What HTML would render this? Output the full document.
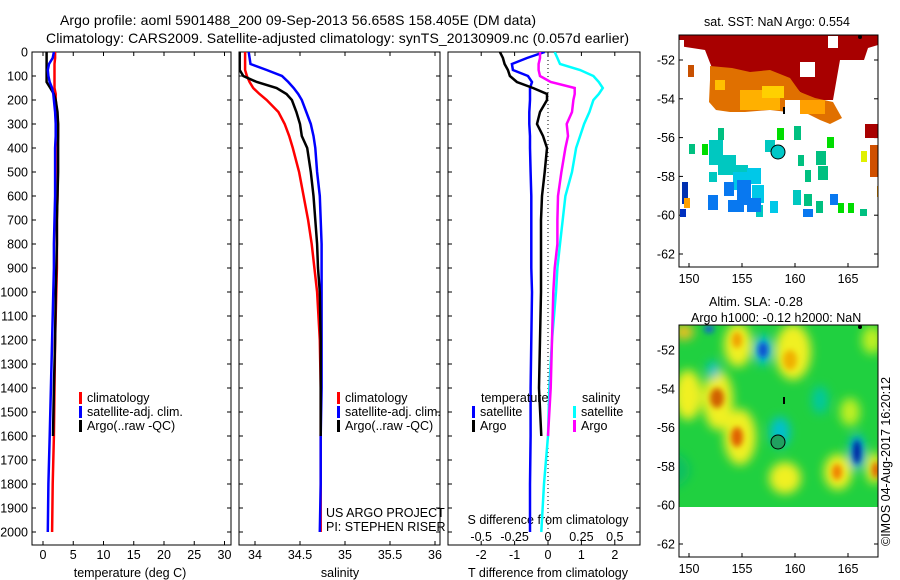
<!DOCTYPE html>
<html><head><meta charset="utf-8">
<style>
html,body{margin:0;padding:0;background:#fff;}
svg{display:block;font-family:"Liberation Sans",sans-serif;}
</style></head>
<body>
<svg id="chart" width="900" height="580" viewBox="0 0 900 580" xmlns="http://www.w3.org/2000/svg">
<defs>
<clipPath id="c1"><rect x="32" y="52" width="199" height="493"/></clipPath>
<clipPath id="c2"><rect x="239" y="52" width="201" height="493"/></clipPath>
<clipPath id="c3"><rect x="448" y="52" width="192" height="493"/></clipPath>
<clipPath id="cm1"><rect x="679" y="35" width="199" height="232"/></clipPath>
<clipPath id="cm2"><rect x="679" y="325" width="199" height="182"/></clipPath>
<filter id="blur" x="-50%" y="-50%" width="200%" height="200%"><feGaussianBlur stdDeviation="5"/></filter>
<filter id="blur2" x="-50%" y="-50%" width="200%" height="200%"><feGaussianBlur stdDeviation="3"/></filter>
</defs>
<text x="60" y="25" font-size="14" textLength="476">Argo profile: aoml 5901488_200 09-Sep-2013 56.658S 158.405E (DM data)</text>
<text x="46" y="43" font-size="14" textLength="583">Climatology: CARS2009. Satellite-adjusted climatology: synTS_20130909.nc (0.057d earlier)</text>
<g id="g"></g>

<!-- top map -->
<g>
<text x="704" y="26" font-size="12.5">sat. SST: NaN Argo: 0.554</text>
<g clip-path="url(#cm1)">
<polygon fill="#a80000" points="679,35 878,35 878,45 868,48 864,60 840,60 833,100 815,100 800,92 790,80 760,78 745,72 730,70 712,68 705,50 679,46"/>
<polygon fill="#e07000" points="710,66 732,68 750,72 770,70 790,78 800,92 815,98 833,102 842,118 830,124 820,120 800,110 788,112 770,110 745,112 730,112 716,110 709,102 710,80"/>
<rect x="715" y="80" width="10" height="10" fill="#ffc000"/>
<rect x="740" y="90" width="40" height="20" fill="#ffb000"/>
<rect x="762" y="86" width="22" height="12" fill="#ffd000"/>
<rect x="800" y="100" width="25" height="14" fill="#ffa000"/>
<rect x="785" y="100" width="15" height="22" fill="#fff"/>
<rect x="800" y="62" width="15" height="15" fill="#fff"/>
<rect x="828" y="36" width="10" height="12" fill="#fff"/>
<rect x="679" y="40" width="5" height="8" fill="#fff"/>
<rect x="688" y="65" width="6" height="12" fill="#c85000"/>
<rect x="865" y="124" width="13" height="14" fill="#a80000"/>
<rect x="870" y="145" width="8" height="32" fill="#d05000"/>
<rect x="861" y="151" width="6" height="11" fill="#e0f000"/>
<rect x="877" y="186" width="3" height="11" fill="#ffa000"/>
<g fill="#00c080">
<rect x="689" y="144" width="6" height="10"/><rect x="718" y="128" width="6" height="12"/><rect x="794" y="126" width="7" height="14"/>
<rect x="816" y="151" width="10" height="14"/><rect x="798" y="155" width="6" height="11"/><rect x="805" y="170" width="6" height="12"/>
<rect x="804" y="194" width="8" height="12"/><rect x="816" y="201" width="7" height="12"/><rect x="860" y="209" width="7" height="7"/>
<rect x="818" y="166" width="10" height="14"/></g>
<g fill="#00dd00">
<rect x="702" y="144" width="6" height="11"/><rect x="777" y="128" width="7" height="12"/><rect x="827" y="137" width="7" height="11"/>
<rect x="838" y="203" width="6" height="10"/><rect x="848" y="203" width="6" height="10"/></g>
<g fill="#00c8c0">
<rect x="709" y="140" width="14" height="25"/><rect x="718" y="155" width="18" height="20"/><rect x="765" y="140" width="10" height="12"/>
<rect x="709" y="172" width="8" height="10"/><rect x="793" y="190" width="8" height="15"/><rect x="756" y="205" width="7" height="12"/>
<rect x="728" y="165" width="20" height="10"/></g>
<g fill="#00c8e8">
<rect x="747" y="168" width="14" height="16"/><rect x="733" y="172" width="14" height="18"/><rect x="770" y="201" width="8" height="12"/>
<rect x="752" y="185" width="12" height="18"/></g>
<g fill="#0878f0">
<rect x="724" y="182" width="10" height="14"/><rect x="737" y="180" width="14" height="25"/><rect x="708" y="195" width="10" height="15"/>
<rect x="728" y="200" width="16" height="12"/><rect x="747" y="198" width="14" height="14"/><rect x="803" y="209" width="10" height="8"/>
<rect x="830" y="194" width="8" height="11"/></g>
<rect x="682" y="182" width="6" height="22" fill="#0030b0"/><rect x="680" y="209" width="6" height="8" fill="#0030c0"/>
<rect x="684" y="198" width="6" height="10" fill="#ffa000"/>
<rect x="783" y="107" width="2" height="7" fill="#000"/>
<circle cx="778" cy="152" r="7" fill="#00c8c8" stroke="#000" stroke-width="1"/>
<circle cx="860" cy="37" r="2" fill="#000"/>
</g>
<rect x="679" y="35" width="199" height="232" fill="none" stroke="#000"/>
</g>

<!-- bottom map -->
<g>
<text x="709" y="306" font-size="12.5">Altim. SLA: -0.28</text>
<text x="691" y="322" font-size="12.5">Argo h1000: -0.12 h2000: NaN</text>
<g clip-path="url(#cm2)">
<rect x="679" y="325" width="199" height="182" fill="#20d040"/>
<g filter="url(#blur)">
<ellipse cx="688" cy="395" rx="14" ry="25" fill="#f0f020"/>
<ellipse cx="718" cy="400" rx="15" ry="30" fill="#f0f020"/>
<ellipse cx="740" cy="437" rx="16" ry="28" fill="#f0f020"/>
<ellipse cx="738" cy="345" rx="14" ry="22" fill="#f0f020"/>
<ellipse cx="793" cy="352" rx="18" ry="28" fill="#f0f020"/>
<ellipse cx="785" cy="478" rx="16" ry="16" fill="#f0f020"/>
<ellipse cx="838" cy="472" rx="14" ry="18" fill="#f0f020"/>
<ellipse cx="850" cy="412" rx="10" ry="14" fill="#c0f020"/>
<ellipse cx="874" cy="468" rx="8" ry="16" fill="#f0f020"/>
<ellipse cx="872" cy="340" rx="10" ry="14" fill="#c0f020"/>
<ellipse cx="684" cy="332" rx="10" ry="8" fill="#f0c020"/>
<ellipse cx="763" cy="350" rx="9" ry="15" fill="#00c0e0"/>
<ellipse cx="780" cy="432" rx="10" ry="15" fill="#00c0d0"/>
<ellipse cx="857" cy="452" rx="8" ry="18" fill="#00b0e0"/>
<ellipse cx="713" cy="370" rx="6" ry="9" fill="#00c0d0"/>
<ellipse cx="820" cy="400" rx="8" ry="14" fill="#00c8a0"/>
<ellipse cx="660" cy="470" rx="30" ry="20" fill="#10c060"/>
</g>
<g filter="url(#blur2)">
<ellipse cx="717" cy="398" rx="7" ry="10" fill="#d06000"/>
<ellipse cx="737" cy="437" rx="6" ry="10" fill="#e06000"/>
<ellipse cx="837" cy="472" rx="5" ry="8" fill="#f08000"/>
<ellipse cx="790" cy="360" rx="7" ry="10" fill="#f0b000"/>
<ellipse cx="737" cy="340" rx="5" ry="8" fill="#f0a000"/>
<ellipse cx="876" cy="470" rx="4" ry="8" fill="#e06000"/>
<ellipse cx="763" cy="350" rx="5" ry="8" fill="#1050d0"/>
<ellipse cx="857" cy="452" rx="4" ry="12" fill="#0020a0"/>
<ellipse cx="709" cy="329" rx="5" ry="4" fill="#1060d0"/>
</g>
<rect x="783" y="397" width="2" height="7" fill="#000"/>
<circle cx="778" cy="442" r="7" fill="#20a060" stroke="#000" stroke-width="1"/>
<circle cx="860" cy="327" r="2" fill="#000"/>
</g>
<rect x="679" y="325" width="199" height="232" fill="none" stroke="#000"/>
</g>
<text transform="translate(890,546) rotate(-90)" font-size="12.5">©IMOS 04-Aug-2017 16:20:12</text>
</svg>
<script>
// ---- data ----
const depths = [0,25,50,75,100,125,150,175,200,250,300,350,400,500,600,700,800,900,1000,1200,1400,1600,1800,2000];
const depthTicks = [0,100,200,300,400,500,600,700,800,900,1000,1100,1200,1300,1400,1500,1600,1700,1800,1900,2000];
const tempTicks = [0,5,10,15,20,25,30];
const salTicks = [34,34.5,35,35.5,36];
const salTickLabels = ["34","34.5","35","35.5","36"];
const tdiffTicks = [-2,-1,0,1,2];
const sdiffTicks = [-0.5,-0.25,0,0.25,0.5];
const sdiffLabels = ["-0.5","-0.25","0","0.25","0.5"];
const tempClim = [2.0,2.0,1.9,1.9,1.9,1.9,1.9,2.1,2.1,2.3,2.5,2.5,2.4,2.4,2.4,2.3,2.3,2.3,2.2,2.0,1.9,1.8,1.6,1.5];
const tempSat = [1.8,1.6,1.0,0.8,0.9,1.1,1.5,1.7,1.8,2.0,2.1,2.1,2.0,2.0,2.0,1.9,1.8,1.8,1.7,1.5,1.3,1.1,0.9,0.8];
const tempArgo = [0.6,0.6,0.6,0.6,0.6,0.6,1.2,1.8,2.1,2.4,2.5,2.5,2.5,2.5,2.4,2.3,2.3,2.2,2.1,2.0,1.8,1.65,null,null];
const salClim = [33.89,33.89,33.89,33.89,33.91,33.94,33.98,34.05,34.13,34.26,34.33,34.38,34.42,34.49,34.54,34.59,34.63,34.66,34.69,34.72,34.73,34.73,34.73,34.73];
const salSat = [33.93,33.94,33.95,34.13,34.30,34.37,34.43,34.48,34.52,34.57,34.62,34.65,34.67,34.69,34.72,34.73,34.74,34.74,34.74,34.74,34.74,34.73,34.73,34.72];
const salArgo = [33.83,33.83,33.83,33.83,33.87,34.02,34.24,34.35,34.41,34.46,34.50,34.52,34.58,34.62,34.65,34.67,34.69,34.70,34.72,34.73,34.73,34.73,null,null];
const tdiffSat = [-0.1,-0.63,-1.08,-1.05,-0.6,-0.48,-0.54,-0.54,-0.54,-0.56,-0.56,-0.54,-0.54,-0.52,-0.50,-0.50,-0.50,-0.50,-0.48,-0.50,-0.52,-0.52,-0.54,-0.54];
const tdiffArgo = [-1.44,-1.35,-1.3,-1.2,-1.14,-0.93,-0.45,-0.03,-0.03,-0.24,-0.33,-0.15,-0.03,-0.1,-0.18,-0.21,-0.21,-0.21,-0.21,-0.24,-0.27,-0.2,null,null];
const sdiffSat = [0.05,0.07,0.09,0.24,0.34,0.38,0.41,0.38,0.34,0.31,0.27,0.24,0.21,0.18,0.13,0.11,0.09,0.07,0.06,0.03,0.01,0.0,-0.03,-0.05];
const sdiffArgo = [-0.06,-0.06,-0.07,-0.07,-0.06,0.02,0.2,0.2,0.19,0.18,0.14,0.15,0.13,0.10,0.075,0.07,0.07,0.05,0.04,0.03,0.02,0.0,null,null];
const mapLats = [-52,-54,-56,-58,-60,-62];
const mapLons = [150,155,160,165];

// ---- scales ----
const NS="http://www.w3.org/2000/svg";
const g=document.getElementById('g');
const yD=d=>52+d*0.24;
const xT=v=>43+v*6.05;
const xS=v=>255+(v-34)*90;
const xTd=v=>548+v*33.4;
const xSd=v=>548+v*133.6;
function el(tag,attrs,parent){const e=document.createElementNS(NS,tag);for(const k in attrs)e.setAttribute(k,attrs[k]);(parent||g).appendChild(e);return e;}
function txt(x,y,s,anchor,size,name){const t=el('text',{x:x,y:y,'font-size':size||12.5,'text-anchor':anchor||'start'});t.textContent=s;


return t;}

const panels=[{x0:32,x1:231,clip:'c1',name:'temperature-panel'},{x0:239,x1:440,clip:'c2',name:'salinity-panel'},{x0:448,x1:640,clip:'c3',name:'difference-panel'}];
panels.forEach(p=>{
  const r=el('rect',{x:p.x0,y:52,width:p.x1-p.x0,height:493,fill:'none',stroke:'#000','stroke-width':1});
  
  
  depthTicks.forEach(d=>{
    el('line',{x1:p.x0,x2:p.x0+4,y1:yD(d),y2:yD(d),stroke:'#000'});
    el('line',{x1:p.x1,x2:p.x1-4,y1:yD(d),y2:yD(d),stroke:'#000'});
  });
});
depthTicks.forEach(d=>txt(28,yD(d)+4.5,String(d),'end',12.5,'depth-tick-label'));
function xticks(ticks,fx,labels,ly,name){ticks.forEach((v,i)=>{const x=fx(v);
  el('line',{x1:x,x2:x,y1:52,y2:56,stroke:'#000'});el('line',{x1:x,x2:x,y1:545,y2:541,stroke:'#000'});
  if(labels) txt(x,ly,labels[i],'middle',12.5,name);});}
xticks(tempTicks,xT,tempTicks.map(String),559,'temperature-tick-label');
xticks(salTicks,xS,salTickLabels,559,'salinity-tick-label');
xticks(tdiffTicks,xTd,tdiffTicks.map(String),559,'t-diff-tick-label');
sdiffTicks.forEach((v,i)=>txt(xSd(v),541,sdiffLabels[i],'middle',12.5,'s-diff-tick-label'));
txt(130,577,'temperature (deg C)','middle',12.5,'temperature-axis-title');
txt(340,577,'salinity','middle',12.5,'salinity-axis-title');
txt(548,577,'T difference from climatology','middle',12.5,'t-diff-axis-title');
txt(548,524,'S difference from climatology','middle',12.5,'s-diff-axis-title');
// dotted zero
const z=el('line',{x1:548,x2:548,y1:52,y2:545,stroke:'#000','stroke-dasharray':'1,3'});



function series(vals,fx,color,clip,name){
  let d='';let started=false;
  vals.forEach((v,i)=>{if(v===null){started=false;return;}d+=(started?'L':'M')+fx(v).toFixed(1)+','+yD(depths[i]).toFixed(1);started=true;});
  const p=el('path',{d:d,fill:'none',stroke:color,'stroke-width':2.5,'clip-path':'url(#'+clip+')'});
  
  
}
series(tempClim,xT,'#f00','c1','temperature-climatology-line');
series(tempArgo,xT,'#000','c1','temperature-argo-line');
series(tempSat,xT,'#00f','c1','temperature-satellite-line');
series(salClim,xS,'#f00','c2','salinity-climatology-line');
series(salSat,xS,'#00f','c2','salinity-satellite-line');
series(salArgo,xS,'#000','c2','salinity-argo-line');
series(tdiffSat,xTd,'#00f','c3','t-diff-satellite-line');
series(tdiffArgo,xTd,'#000','c3','t-diff-argo-line');
series(sdiffSat,xSd,'#00ffff','c3','s-diff-satellite-line');
series(sdiffArgo,xSd,'#ff00ff','c3','s-diff-argo-line');

function legend(x,y,color,label){
  const b=el('rect',{x:x,y:y-10,width:3,height:12,fill:color});
  
  
  txt(x+8,y,label,'start',12.5,'legend-entry');
}
[[32,'climatology','#f00'],[0,'',''],[0,'','']];
legend(79,402,'#f00','climatology');legend(79,416,'#00f','satellite-adj. clim.');legend(79,430,'#000','Argo(..raw -QC)');
legend(337,402,'#f00','climatology');legend(337,416,'#00f','satellite-adj. clim.');legend(337,430,'#000','Argo(..raw -QC)');
txt(481,402,'temperature','start',12.5,'legend-title-temperature');
legend(472,416,'#00f','satellite');legend(472,430,'#000','Argo');
txt(582,402,'salinity','start',12.5,'legend-title-salinity');
legend(573,416,'#00ffff','satellite');legend(573,430,'#ff00ff','Argo');
txt(326,517,'US ARGO PROJECT','start',12.5,'project-label');
txt(326,531,'PI: STEPHEN RISER','start',12.5,'pi-label');

// map axes
[[35,267,60,283],[325,557,350,573]].forEach(m=>{
  mapLats.forEach(la=>{const y=m[2]+(-52-la)*19.4;
    el('line',{x1:679,x2:683,y1:y,y2:y,stroke:'#000'});el('line',{x1:878,x2:874,y1:y,y2:y,stroke:'#000'});
    txt(675,y+4.5,String(la),'end',12.5,'map-lat-label');});
  mapLons.forEach(lo=>{const x=689+(lo-150)*10.6;
    el('line',{x1:x,x2:x,y1:m[0],y2:m[0]+4,stroke:'#000'});el('line',{x1:x,x2:x,y1:m[1],y2:m[1]-4,stroke:'#000'});
    txt(x,m[3],String(lo),'middle',12.5,'map-lon-label');});
});
</script>
</body></html>
